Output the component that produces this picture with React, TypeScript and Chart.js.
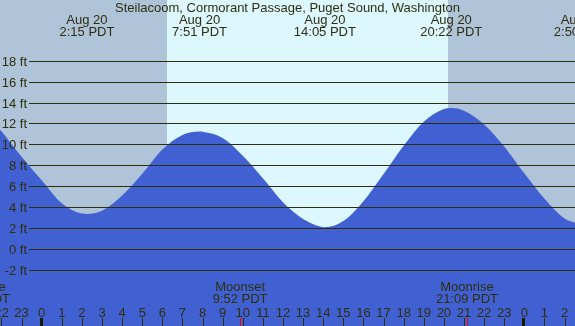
import React, { useEffect, useRef } from "react";
import { Chart, registerables } from "chart.js";

Chart.register(...registerables);

// Tide curve (hours from Aug 20 00:00, feet)
const hours = [-2.074, -2, -1, 0, 1, 2, 2.25, 3, 4, 5, 6, 7, 7.85, 8, 9, 10, 11, 12, 13, 14, 14.083, 15, 16, 17, 18, 19, 20, 20.367, 21, 22, 23, 24, 25, 26, 26.522];
const feet = [11.45, 11.3, 8.85, 6.6, 4.4, 3.42, 3.39, 3.7, 5.15, 7.23, 9.55, 10.95, 11.27, 11.25, 10.65, 8.95, 6.8, 4.5, 2.9, 2.11, 2.1, 2.7, 4.6, 7.2, 9.9, 12.2, 13.42, 13.52, 13.27, 11.95, 9.85, 7.28, 4.86, 2.95, 2.55];

const gridFeet = [-2, 0, 2, 4, 6, 8, 10, 12, 14, 16, 18];
const hourTicks = [-2, -1, 0, 1, 2, 3, 4, 5, 6, 7, 8, 9, 10, 11, 12, 13, 14, 15, 16, 17, 18, 19, 20, 21, 22, 23, 24, 25, 26];
const hourLabels = ["22", "23", "0", "1", "2", "3", "4", "5", "6", "7", "8", "9", "10", "11", "12", "13", "14", "15", "16", "17", "18", "19", "20", "21", "22", "23", "0", "1", "2"];

const extremeHours = [2.25, 7.85, 14.083, 20.367, 26.833];
const extremeDates = ["Aug 20", "Aug 20", "Aug 20", "Aug 20", "Aug 21"];
const extremeTimes = ["2:15 PDT", "7:51 PDT", "14:05 PDT", "20:22 PDT", "2:50 PDT"];

const moonHours = [-3.12, 9.867, 21.15];
const moonNames = ["Moonrise", "Moonset", "Moonrise"];
const moonTimes = ["20:53 PDT", "9:52 PDT", "21:09 PDT"];

const sunriseHour = 6.22;
const sunsetHour = 20.2;

const TITLE = "Steilacoom, Cormorant Passage, Puget Sound, Washington";

const NIGHT = "#b0c4d9";
const DAY = "#ddf7ff";
const WATER = "#4161d3";
const INK = "#2e2e0e";
const FONT = "13px 'Liberation Sans', Arial, sans-serif";

const tidePlugin = {
  id: "tideDecor",
  beforeDatasetsDraw(chart: any) {
    const { ctx, scales, width, height } = chart;
    const x = scales.x;
    const sr = x.getPixelForValue(sunriseHour);
    const ss = x.getPixelForValue(sunsetHour);
    ctx.save();
    ctx.fillStyle = NIGHT;
    ctx.fillRect(0, 0, width, height);
    ctx.fillStyle = DAY;
    ctx.fillRect(Math.round(sr), 0, Math.round(ss) - Math.round(sr), height);
    ctx.restore();
  },
  afterDatasetsDraw(chart: any) {
    const { ctx, scales, width } = chart;
    const x = scales.x;
    const y = scales.y;
    ctx.save();
    ctx.font = FONT;
    ctx.fillStyle = INK;
    ctx.strokeStyle = INK;
    ctx.lineWidth = 1;
    ctx.textBaseline = "alphabetic";
    gridFeet.forEach((f) => {
      const py = Math.floor(y.getPixelForValue(f)) + 0.5;
      ctx.beginPath();
      ctx.moveTo(29, py);
      ctx.lineTo(width, py);
      ctx.stroke();
      ctx.textAlign = "right";
      ctx.fillText(f + " ft", 27, py + 4);
    });
    ctx.textAlign = "center";
    ctx.fillText(TITLE, width / 2, 12);
    extremeHours.forEach((h, i) => {
      const px = x.getPixelForValue(h);
      ctx.fillText(extremeDates[i], px, 24);
      ctx.fillText(extremeTimes[i], px, 36);
    });
    hourTicks.forEach((h, i) => {
      const px = x.getPixelForValue(h);
      const midnight = hourLabels[i] === "0";
      ctx.fillStyle = midnight ? "#1a1a00" : INK;
      if (midnight) ctx.fillRect(Math.round(px) - 2, 318, 3, 8);
      else ctx.fillRect(Math.round(px), 318, 1, 8);
      ctx.fillStyle = INK;
      ctx.fillText(hourLabels[i], px, 317);
    });
    moonHours.forEach((h, i) => {
      const px = x.getPixelForValue(h);
      ctx.fillStyle = "#ff0000";
      ctx.fillRect(Math.round(px), 318, 1, 8);
      ctx.fillStyle = INK;
      ctx.fillText(moonNames[i], px, 291);
      ctx.fillText(moonTimes[i], px, 303);
    });
    ctx.restore();
  },
};

export default function App() {
  const ref = useRef<HTMLCanvasElement | null>(null);
  useEffect(() => {
    document.body.style.margin = "0";
    const canvas = ref.current;
    if (!canvas) return;
    const chart = new Chart(canvas, {
      type: "line",
      data: {
        datasets: [
          {
            data: hours.map((h, i) => ({ x: h, y: feet[i] })),
            borderWidth: 0,
            borderColor: WATER,
            backgroundColor: WATER,
            fill: "start",
            pointRadius: 0,
            cubicInterpolationMode: "monotone",
          },
        ],
      },
      options: {
        responsive: false,
        animation: false,
        devicePixelRatio: 1,
        layout: { padding: 0 },
        plugins: { legend: { display: false }, tooltip: { enabled: false }, title: { display: false } },
        scales: {
          x: { type: "linear", min: -2.074, max: 26.522, display: false },
          y: { type: "linear", min: -7.34, max: 23.86, display: false },
        },
      },
      plugins: [tidePlugin],
    });
    return () => chart.destroy();
  }, []);
  return <canvas ref={ref} width={575} height={326} style={{ display: "block", width: 575, height: 326 }} />;
}
